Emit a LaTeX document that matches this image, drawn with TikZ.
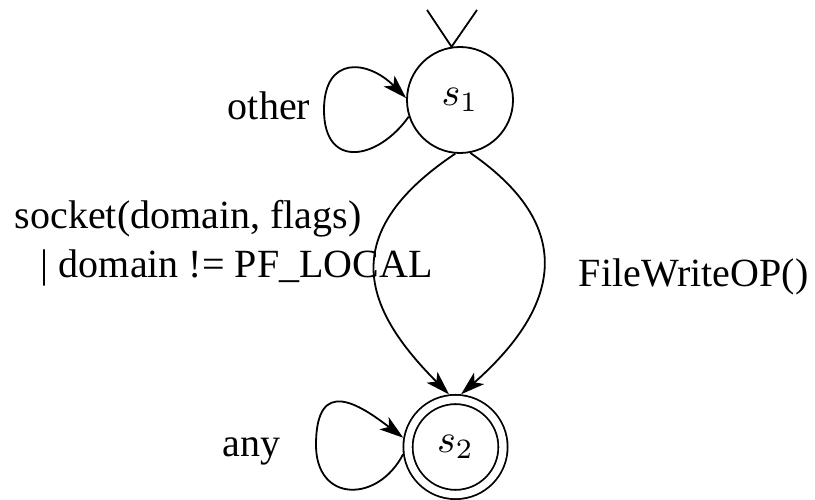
\documentclass[tikz,border=0pt]{standalone}
\usepackage{fontspec}
\setmainfont{Liberation Serif}
\usetikzlibrary{arrows.meta}

\tikzset{
  etat/.style={circle, draw, inner sep=0pt, minimum size=26.5pt},
  final/.style={circle, draw, double, double distance=1.85pt, inner sep=0pt, minimum size=23.75pt, outer sep=1.375pt},
  fleche/.style={-{Stealth[length=6pt,width=3.8pt,inset=1.5pt]}},
  lbl/.style={inner sep=0pt, font=\fontsize{10}{12}\selectfont}
}

\begin{document}
\begin{tikzpicture}[x=0.25pt, y=-0.25pt, line width=0.45pt]
\useasboundingbox (0,0) rectangle (815,500);
% etats
\node[etat] (s1) at (460,100) {$s_1$};
\node[final] (s2) at (455.5,447) {$s_2$};
% fleche initiale
\coordinate (ini-g) at (427,10);
\coordinate (ini-d) at (477,10);
\draw (ini-g) -- (s1.99) -- (ini-d);
% boucles
\draw[fleche] (s1.-162) .. controls (378,160) and (324,170) .. (324,110)
  .. controls (324,55) and (368,60) .. (s1.178);
\draw[fleche] (s2.-172) .. controls (378,503) and (316,503) .. (316,445)
  .. controls (316,375) and (360,405) .. (s2.170);
% transitions s1 -> s2
\draw[fleche] (s1.-95) .. controls (332,236) and (367,312) .. (s2.97);
\draw[fleche] (s1.-79) .. controls (585,232) and (552,314) .. (s2.84);
% etiquettes
\node[lbl, anchor=base east] (l-other) at (311,120) {other};
\node[lbl, anchor=base east] (l-any) at (281,457) {any};
\node[lbl, anchor=base west] (l-sock) at (14,229) {socket(domain, flags)};
\node[lbl, anchor=base west] (l-cond) at (40,278) {| domain != PF\_LOCAL};
\node[lbl, anchor=base west] (l-write) at (578,287) {FileWriteOP()};
\end{tikzpicture}
\end{document}
